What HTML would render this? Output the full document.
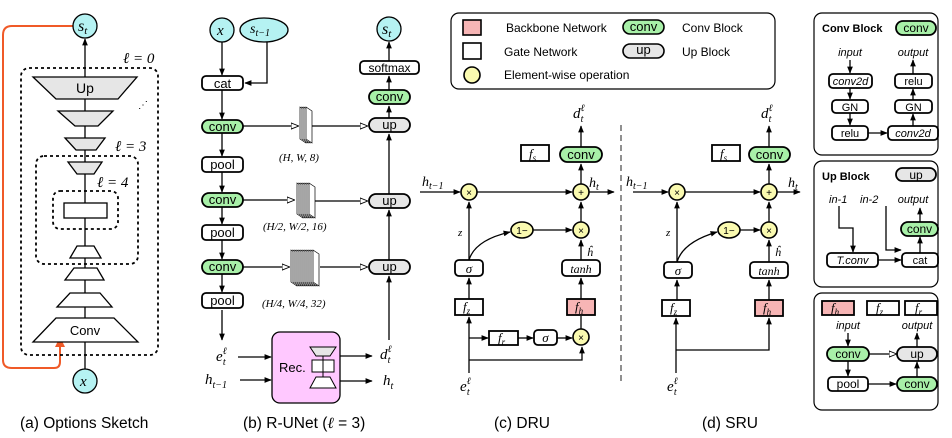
<!DOCTYPE html>
<html><head><meta charset="utf-8"><style>
html,body{margin:0;padding:0;background:#fff}
svg{display:block}
text{font-family:"Liberation Sans",sans-serif;fill:#000}
.m{font-family:"Liberation Serif",serif;font-style:italic}
.it{font-style:italic}
</style></head><body>
<svg width="952" height="438" viewBox="0 0 952 438" xmlns="http://www.w3.org/2000/svg">
<defs>
<marker id="a" viewBox="0 0 10 10" refX="9" refY="5" markerWidth="5.5" markerHeight="5.5" orient="auto-start-reverse"><path d="M0,1 L10,5 L0,9 z" fill="#000"/></marker>
<marker id="o" viewBox="0 0 10 10" refX="9" refY="5" markerWidth="6" markerHeight="6" orient="auto"><path d="M0,1 L10,5 L0,9 z" fill="#fff" stroke="#000" stroke-width="1.2"/></marker>
<marker id="r" viewBox="0 0 10 10" refX="9" refY="5" markerWidth="5" markerHeight="5" orient="auto"><path d="M0,0 L10,5 L0,10 z" fill="#f05a28"/></marker>
</defs>
<g stroke="#000" stroke-width="1.3" fill="none">
<!-- Panel a -->
<path d="M73,26 H12 Q3,26 3,35 V360 Q3,368 12,368 H54 Q60,368 60,362 V338" stroke="#f05a28" stroke-width="2" marker-end="url(#r)"/>
<line x1="85" y1="369" x2="85" y2="39" marker-end="url(#a)"/>
<rect x="21" y="68" width="137" height="287" rx="8" stroke-dasharray="3,3" stroke-width="1.8"/>
<rect x="36" y="156" width="102" height="108" rx="8" stroke-dasharray="3,3" stroke-width="1.8"/>
<rect x="53" y="191" width="65" height="38" rx="7" stroke-dasharray="3,3" stroke-width="1.8"/>
<g fill="#e6e6e6">
<path d="M33,77 H137 L118,99 H56 Z"/><path d="M58,111 H113 L98,126 H75 Z"/><path d="M65,138 H105 L96,150 H76 Z"/><path d="M68,162 H102 L94,174 H77 Z"/>
</g>
<g fill="#fff">
<rect x="64" y="203" width="43" height="15"/>
<path d="M77,246 H94 L101,258 H70 Z"/><path d="M74,268 H97 L104,280 H65 Z"/><path d="M70,293 H100 L112,307 H57 Z"/><path d="M56,318 H114 L138,342 H33 Z"/>
</g>
<circle cx="85" cy="26" r="12" fill="#b5f2f2"/><circle cx="85" cy="381" r="12" fill="#b5f2f2"/>
<!-- Panel b -->
<circle cx="222" cy="30" r="12" fill="#b5f2f2"/><ellipse cx="264" cy="30" rx="24" ry="12" fill="#b5f2f2"/>
<circle cx="389" cy="29" r="12" fill="#b5f2f2"/>
<line x1="222" y1="42" x2="222" y2="75" marker-end="url(#a)"/>
<path d="M267,42 V83 H245" marker-end="url(#a)"/>
<line x1="222" y1="90" x2="222" y2="119" marker-end="url(#a)"/>
<line x1="222" y1="133" x2="222" y2="156" marker-end="url(#a)"/>
<line x1="222" y1="172" x2="222" y2="192" marker-end="url(#a)"/>
<line x1="222" y1="207" x2="222" y2="224" marker-end="url(#a)"/>
<line x1="222" y1="240" x2="222" y2="259" marker-end="url(#a)"/>
<line x1="222" y1="274" x2="222" y2="292" marker-end="url(#a)"/>
<line x1="222" y1="310" x2="222" y2="340" marker-end="url(#a)"/>
<line x1="243" y1="126" x2="298" y2="126" marker-end="url(#o)"/>
<line x1="312" y1="126" x2="367" y2="126" marker-end="url(#o)"/>
<line x1="243" y1="200" x2="294" y2="200" marker-end="url(#o)"/>
<line x1="315" y1="201" x2="367" y2="201" marker-end="url(#o)"/>
<line x1="243" y1="267" x2="289" y2="267" marker-end="url(#o)"/>
<line x1="320" y1="267" x2="367" y2="267" marker-end="url(#o)"/>
<line x1="389" y1="340" x2="389" y2="276" marker-end="url(#a)"/>
<line x1="389" y1="260" x2="389" y2="210" marker-end="url(#a)"/>
<line x1="389" y1="194" x2="389" y2="134" marker-end="url(#a)"/>
<line x1="389" y1="118" x2="389" y2="106" marker-end="url(#a)"/>
<line x1="389" y1="90" x2="389" y2="76" marker-end="url(#a)"/>
<line x1="389" y1="61" x2="389" y2="42" marker-end="url(#a)"/>
<line x1="238" y1="357" x2="271" y2="357" marker-end="url(#a)"/>
<line x1="240" y1="380" x2="271" y2="380" marker-end="url(#a)"/>
<line x1="340" y1="356" x2="372" y2="356" marker-end="url(#a)"/>
<line x1="340" y1="381" x2="372" y2="381" marker-end="url(#a)"/>
<rect x="272" y="332" width="68" height="71" rx="8" fill="#ffc8ff"/>
<path d="M310,347 H336 L330,356 H316 Z" fill="#e6e6e6" stroke-width="1"/>
<rect x="312" y="360" width="22" height="12" fill="#fff" stroke-width="1"/>
<path d="M316,377 H330 L336,388 H310 Z" fill="#fff" stroke-width="1"/>
<line x1="323" y1="356" x2="323" y2="377" stroke-width="1"/>
<g stroke-width="1.8">
<rect x="202" y="76" width="41" height="14" rx="4" fill="#fff"/>
<rect x="202" y="120" width="41" height="13" rx="6.5" fill="#a8f0a8"/>
<rect x="202" y="157" width="41" height="15" rx="4" fill="#fff"/>
<rect x="202" y="193" width="41" height="14" rx="7" fill="#a8f0a8"/>
<rect x="202" y="225" width="41" height="15" rx="4" fill="#fff"/>
<rect x="202" y="260" width="41" height="14" rx="7" fill="#a8f0a8"/>
<rect x="202" y="293" width="41" height="15" rx="4" fill="#fff"/>
<rect x="360" y="61" width="59" height="13" rx="4" fill="#fff"/>
<rect x="369" y="90" width="41" height="14" rx="7" fill="#a8f0a8"/>
<rect x="369" y="118" width="41" height="14" rx="7" fill="#e6e6e6"/>
<rect x="369" y="194" width="41" height="14" rx="7" fill="#e6e6e6"/>
<rect x="369" y="260" width="41" height="14" rx="7" fill="#e6e6e6"/>
</g>
<!-- feature maps -->
<g stroke-width="0.7" fill="#fff">
<path d="M300,107 L306,111 V143 L300,139 Z"/><path d="M302,107 L308,111 V143 L302,139 Z"/><path d="M304,107 L310,111 V143 L304,139 Z"/><path d="M306,107 L312,111 V143 L306,139 Z"/>
<path d="M297,183 L303,187 V218 L297,214 Z"/><path d="M299,183 L305,187 V218 L299,214 Z"/><path d="M301,183 L307,187 V218 L301,214 Z"/><path d="M303,183 L309,187 V218 L303,214 Z"/><path d="M305,183 L311,187 V218 L305,214 Z"/><path d="M307,183 L313,187 V218 L307,214 Z"/><path d="M309,183 L315,187 V218 L309,214 Z"/>
<path d="M291,250 L297,254 V286 L291,282 Z"/><path d="M293,250 L299,254 V286 L293,282 Z"/><path d="M295,250 L301,254 V286 L295,282 Z"/><path d="M297,250 L303,254 V286 L297,282 Z"/><path d="M299,250 L305,254 V286 L299,282 Z"/><path d="M301,250 L307,254 V286 L301,282 Z"/><path d="M303,250 L309,254 V286 L303,282 Z"/><path d="M305,250 L311,254 V286 L305,282 Z"/><path d="M307,250 L313,254 V286 L307,282 Z"/><path d="M309,250 L315,254 V286 L309,282 Z"/><path d="M311,250 L317,254 V286 L311,282 Z"/><path d="M313,250 L319,254 V286 L313,282 Z"/>
</g>
<!-- Legend -->
<rect x="451" y="13" width="324" height="76" rx="8" stroke-width="1.2"/>
<rect x="463" y="20" width="18" height="15" fill="#f7b5b5" stroke-width="1.6"/>
<rect x="463" y="43" width="18" height="16" fill="#fff" stroke-width="1.6"/>
<circle cx="472" cy="75" r="8" fill="#fafab0" stroke-width="1.6"/>
<rect x="623" y="20" width="41" height="14" rx="7" fill="#a8f0a8" stroke-width="1.6"/>
<rect x="623" y="44" width="41" height="14" rx="7" fill="#e6e6e6" stroke-width="1.6"/>
<!-- DRU -->
<line x1="621" y1="125" x2="621" y2="383" stroke="#555" stroke-dasharray="6,4"/>
<line x1="420" y1="192" x2="460" y2="192" marker-end="url(#a)"/>
<line x1="477" y1="192" x2="572" y2="192" marker-end="url(#a)"/>
<line x1="589" y1="192" x2="614" y2="192" marker-end="url(#a)"/>
<line x1="581" y1="184" x2="581" y2="164" marker-end="url(#a)"/>
<line x1="581" y1="147" x2="581" y2="126" marker-end="url(#a)"/>
<line x1="581" y1="222" x2="581" y2="202" marker-end="url(#a)"/>
<line x1="581" y1="260" x2="581" y2="240" marker-end="url(#a)"/>
<line x1="581" y1="299" x2="581" y2="278" marker-end="url(#a)"/>
<line x1="581" y1="329" x2="581" y2="316"/>
<line x1="533" y1="230" x2="572" y2="230" marker-end="url(#a)"/>
<path d="M469,260 Q475,240 510,232" marker-end="url(#a)"/>
<line x1="469" y1="260" x2="469" y2="202" marker-end="url(#a)"/>
<line x1="469" y1="299" x2="469" y2="278" marker-end="url(#a)"/>
<line x1="469" y1="373" x2="469" y2="317" marker-end="url(#a)"/>
<line x1="469" y1="338" x2="488" y2="338" marker-end="url(#a)"/>
<line x1="518" y1="338" x2="533" y2="338" marker-end="url(#a)"/>
<line x1="557" y1="338" x2="572" y2="338" marker-end="url(#a)"/>
<path d="M469,360 H582 V347" marker-end="url(#a)"/>
<g stroke-width="1.8">
<rect x="521" y="145" width="28" height="16" fill="#fff"/>
<rect x="560" y="147" width="42" height="15" rx="7.5" fill="#a8f0a8"/>
<rect x="455" y="260" width="28" height="16" rx="4" fill="#fff"/>
<rect x="562" y="260" width="38" height="16" rx="4" fill="#fff"/>
<rect x="455" y="299" width="28" height="16" fill="#fff"/>
<rect x="567" y="299" width="28" height="16" fill="#f7b5b5"/>
<rect x="489" y="331" width="29" height="14" fill="#fff"/>
<rect x="534" y="330" width="23" height="15" rx="4" fill="#fff"/>
</g>
<g fill="#fafab0" stroke-width="1.6">
<circle cx="469" cy="192" r="8"/><circle cx="581" cy="192" r="8"/><circle cx="581" cy="230" r="8"/><circle cx="581" cy="337" r="8"/><ellipse cx="522" cy="230" rx="11" ry="8"/>
</g>
<!-- SRU -->
<line x1="633" y1="192" x2="668" y2="192" marker-end="url(#a)"/>
<line x1="685" y1="192" x2="760" y2="192" marker-end="url(#a)"/>
<line x1="777" y1="192" x2="800" y2="192" marker-end="url(#a)"/>
<line x1="769" y1="184" x2="769" y2="164" marker-end="url(#a)"/>
<line x1="769" y1="147" x2="769" y2="126" marker-end="url(#a)"/>
<line x1="769" y1="222" x2="769" y2="202" marker-end="url(#a)"/>
<line x1="769" y1="262" x2="769" y2="240" marker-end="url(#a)"/>
<line x1="769" y1="300" x2="769" y2="280" marker-end="url(#a)"/>
<line x1="740" y1="230" x2="760" y2="230" marker-end="url(#a)"/>
<path d="M677,262 Q683,242 717,232" marker-end="url(#a)"/>
<line x1="677" y1="262" x2="677" y2="202" marker-end="url(#a)"/>
<line x1="677" y1="300" x2="677" y2="280" marker-end="url(#a)"/>
<line x1="676" y1="373" x2="676" y2="318" marker-end="url(#a)"/>
<path d="M676,350 H769 V318" marker-end="url(#a)"/>
<g stroke-width="1.8">
<rect x="712" y="145" width="28" height="16" fill="#fff"/>
<rect x="749" y="147" width="41" height="15" rx="7.5" fill="#a8f0a8"/>
<rect x="664" y="262" width="28" height="16" rx="4" fill="#fff"/>
<rect x="750" y="262" width="38" height="16" rx="4" fill="#fff"/>
<rect x="662" y="300" width="28" height="16" fill="#fff"/>
<rect x="755" y="300" width="28" height="16" fill="#f7b5b5"/>
</g>
<g fill="#fafab0" stroke-width="1.6">
<circle cx="677" cy="192" r="8"/><circle cx="769" cy="192" r="8"/><circle cx="769" cy="230" r="8"/><ellipse cx="729" cy="230" rx="11" ry="8"/>
</g>
<!-- Right boxes -->
<rect x="814" y="13" width="124" height="142" rx="8" stroke-width="1.2"/>
<rect x="814" y="161" width="124" height="126" rx="8" stroke-width="1.2"/>
<rect x="814" y="293" width="124" height="117" rx="8" stroke-width="1.2"/>
<line x1="850" y1="60" x2="850" y2="73" marker-end="url(#a)"/>
<line x1="850" y1="88" x2="850" y2="99" marker-end="url(#a)"/>
<line x1="850" y1="113" x2="850" y2="125" marker-end="url(#a)"/>
<line x1="868" y1="133" x2="887" y2="133" marker-end="url(#a)"/>
<line x1="913" y1="126" x2="913" y2="114" marker-end="url(#a)"/>
<line x1="913" y1="100" x2="913" y2="89" marker-end="url(#a)"/>
<line x1="913" y1="74" x2="913" y2="60" marker-end="url(#a)"/>
<path d="M839,206 V228 H853 V252" marker-end="url(#a)"/>
<path d="M886,206 V250 H901" marker-end="url(#a)"/>
<line x1="878" y1="260" x2="901" y2="260" marker-end="url(#a)"/>
<line x1="920" y1="253" x2="920" y2="237" marker-end="url(#a)"/>
<line x1="920" y1="222" x2="920" y2="208" marker-end="url(#a)"/>
<line x1="848" y1="333" x2="848" y2="346" marker-end="url(#a)"/>
<line x1="848" y1="361" x2="848" y2="376" marker-end="url(#a)"/>
<line x1="869" y1="354" x2="896" y2="354" marker-end="url(#o)"/>
<line x1="868" y1="384" x2="896" y2="384" marker-end="url(#a)"/>
<line x1="917" y1="377" x2="917" y2="362" marker-end="url(#a)"/>
<line x1="917" y1="347" x2="917" y2="333" marker-end="url(#a)"/>
<g stroke-width="1.8">
<rect x="896" y="21" width="40" height="14" rx="7" fill="#a8f0a8"/>
<rect x="829" y="74" width="43" height="14" rx="4" fill="#fff"/>
<rect x="832" y="100" width="36" height="13" rx="4" fill="#fff"/>
<rect x="832" y="126" width="36" height="14" rx="4" fill="#fff"/>
<rect x="895" y="74" width="37" height="14" rx="4" fill="#fff"/>
<rect x="895" y="100" width="37" height="13" rx="4" fill="#fff"/>
<rect x="888" y="126" width="50" height="14" rx="4" fill="#fff"/>
<rect x="896" y="168" width="40" height="13" rx="6.5" fill="#e6e6e6"/>
<rect x="901" y="222" width="37" height="14" rx="7" fill="#a8f0a8"/>
<rect x="827" y="253" width="51" height="14" rx="4" fill="#fff"/>
<rect x="902" y="253" width="36" height="14" rx="4" fill="#fff"/>
<rect x="822" y="301" width="32" height="14" fill="#f7b5b5"/>
<rect x="867" y="301" width="32" height="14" fill="#fff"/>
<rect x="905" y="301" width="32" height="14" fill="#fff"/>
<rect x="827" y="347" width="42" height="14" rx="7" fill="#a8f0a8"/>
<rect x="897" y="347" width="40" height="14" rx="7" fill="#e6e6e6"/>
<rect x="828" y="377" width="40" height="14" rx="4" fill="#fff"/>
<rect x="897" y="377" width="40" height="14" rx="7" fill="#a8f0a8"/>
</g>
</g>
<!-- TEXT -->
<g font-size="13">
<text class="m" x="78" y="31" font-size="16">s<tspan font-size="11" dy="3">t</tspan></text>
<text class="m" x="80" y="386" font-size="15">x</text>
<text class="m" x="123" y="63" font-size="15">ℓ = 0</text>
<text class="m" x="115" y="151" font-size="15">ℓ = 3</text>
<text class="m" x="97" y="187" font-size="15">ℓ = 4</text>
<text x="138" y="108" font-size="10">⋰</text>
<text x="85" y="93" text-anchor="middle" font-size="14">Up</text>
<text x="85" y="335" text-anchor="middle" font-size="13">Conv</text>
<text x="20" y="428" font-size="15.5">(a) Options Sketch</text>
<text class="m" x="217" y="35" font-size="15">x</text>
<text class="m" x="250" y="33" font-size="14">s<tspan font-size="10" dy="3">t−1</tspan></text>
<text class="m" x="382" y="34" font-size="16">s<tspan font-size="11" dy="3">t</tspan></text>
<g font-size="13" text-anchor="middle">
<text x="222.5" y="88">cat</text>
<text x="222.5" y="131">conv</text>
<text x="222.5" y="169">pool</text>
<text x="222.5" y="204">conv</text>
<text x="222.5" y="237">pool</text>
<text x="222.5" y="271">conv</text>
<text x="222.5" y="305">pool</text>
<text x="389.5" y="72" font-size="12">softmax</text>
<text x="389.5" y="101">conv</text>
<text x="389.5" y="129">up</text>
<text x="389.5" y="205">up</text>
<text x="389.5" y="271">up</text>
</g>
<text class="m" x="279" y="161" font-size="11">(H, W, 8)</text>
<text class="m" x="263" y="230" font-size="11">(H/2, W/2, 16)</text>
<text class="m" x="262" y="307" font-size="11">(H/4, W/4, 32)</text>
<text x="279" y="372" font-size="13">Rec.</text>
<text class="m" x="216" y="361" font-size="15">e<tspan font-size="10" dy="-7">ℓ</tspan><tspan font-size="10" dx="-4" dy="11">t</tspan></text>
<text class="m" x="205" y="384" font-size="15">h<tspan font-size="10" dy="4">t−1</tspan></text>
<text class="m" x="380" y="359" font-size="15">d<tspan font-size="10" dy="-7">ℓ</tspan><tspan font-size="10" dx="-4" dy="11">t</tspan></text>
<text class="m" x="383" y="385" font-size="15">h<tspan font-size="10" dy="4">t</tspan></text>
<text x="243" y="428" font-size="15.5">(b) R-UNet (<tspan class="m">ℓ</tspan> = 3)</text>
<text x="506" y="32" font-size="12">Backbone Network</text>
<text x="504" y="56" font-size="12">Gate Network</text>
<text x="504" y="79" font-size="12">Element-wise operation</text>
<text x="682" y="32" font-size="12">Conv Block</text>
<text x="682" y="56" font-size="12">Up Block</text>
<text x="643.5" y="31" text-anchor="middle" font-size="13">conv</text>
<text x="643.5" y="54" text-anchor="middle" font-size="13">up</text>
<!-- DRU text -->
<text class="m" x="573" y="118" font-size="15">d<tspan font-size="10" dy="-7">ℓ</tspan><tspan font-size="10" dx="-4" dy="11">t</tspan></text>
<text class="m" x="529" y="158" font-size="13">f<tspan font-size="9" dy="3">s</tspan></text>
<text x="581" y="159" text-anchor="middle" font-size="13">conv</text>
<text class="m" x="589" y="187" font-size="14">h<tspan font-size="10" dy="3">t</tspan></text>
<text class="m" x="422" y="186" font-size="14">h<tspan font-size="10" dy="3">t−1</tspan></text>
<text class="m" x="458" y="236" font-size="11">z</text>
<text class="m" x="587" y="256" font-size="12">ĥ</text>
<text class="m" x="469" y="273" text-anchor="middle" font-size="13">σ</text>
<text class="m" x="581" y="273" text-anchor="middle" font-size="12">tanh</text>
<text class="m" x="463" y="311" font-size="13">f<tspan font-size="9" dy="3">z</tspan></text>
<text class="m" x="575" y="311" font-size="13">f<tspan font-size="9" dy="3">h</tspan></text>
<text class="m" x="498" y="342" font-size="13">f<tspan font-size="9" dy="3">r</tspan></text>
<text class="m" x="545.5" y="342" text-anchor="middle" font-size="13">σ</text>
<text class="m" x="460" y="391" font-size="15">e<tspan font-size="10" dy="-7">ℓ</tspan><tspan font-size="10" dx="-4" dy="11">t</tspan></text>
<text x="494" y="428" font-size="15.5">(c) DRU</text>
<!-- SRU text -->
<text class="m" x="761" y="118" font-size="15">d<tspan font-size="10" dy="-7">ℓ</tspan><tspan font-size="10" dx="-4" dy="11">t</tspan></text>
<text class="m" x="720" y="158" font-size="13">f<tspan font-size="9" dy="3">s</tspan></text>
<text x="769.5" y="159" text-anchor="middle" font-size="13">conv</text>
<text class="m" x="788" y="187" font-size="14">h<tspan font-size="10" dy="3">t</tspan></text>
<text class="m" x="626" y="186" font-size="14">h<tspan font-size="10" dy="3">t−1</tspan></text>
<text class="m" x="666" y="236" font-size="11">z</text>
<text class="m" x="775" y="256" font-size="12">ĥ</text>
<text class="m" x="678" y="275" text-anchor="middle" font-size="13">σ</text>
<text class="m" x="769" y="275" text-anchor="middle" font-size="12">tanh</text>
<text class="m" x="670" y="312" font-size="13">f<tspan font-size="9" dy="3">z</tspan></text>
<text class="m" x="763" y="312" font-size="13">f<tspan font-size="9" dy="3">h</tspan></text>
<text class="m" x="667" y="391" font-size="15">e<tspan font-size="10" dy="-7">ℓ</tspan><tspan font-size="10" dx="-4" dy="11">t</tspan></text>
<text x="702" y="428" font-size="15.5">(d) SRU</text>
<!-- Right text -->
<text x="822" y="32" font-size="11" font-weight="bold">Conv Block</text>
<text x="916" y="32" text-anchor="middle" font-size="12">conv</text>
<text class="it" x="850" y="56" text-anchor="middle" font-size="11">input</text>
<text class="it" x="913" y="56" text-anchor="middle" font-size="11">output</text>
<text class="it" x="850.5" y="85" text-anchor="middle" font-size="11">conv2d</text>
<text x="850" y="111" text-anchor="middle" font-size="11">GN</text>
<text x="850" y="137" text-anchor="middle" font-size="11">relu</text>
<text x="913.5" y="85" text-anchor="middle" font-size="11">relu</text>
<text x="913.5" y="111" text-anchor="middle" font-size="11">GN</text>
<text class="it" x="913" y="137" text-anchor="middle" font-size="11">conv2d</text>
<text x="822" y="180" font-size="11" font-weight="bold">Up Block</text>
<text x="916" y="179" text-anchor="middle" font-size="12">up</text>
<text class="it" x="829" y="203" font-size="11">in-1</text>
<text class="it" x="860" y="203" font-size="11">in-2</text>
<text class="it" x="913" y="203" text-anchor="middle" font-size="11">output</text>
<text x="919.5" y="233" text-anchor="middle" font-size="12">conv</text>
<text class="it" x="852.5" y="264" text-anchor="middle" font-size="11">T.conv</text>
<text x="920" y="264" text-anchor="middle" font-size="11">cat</text>
<text class="m" x="831" y="312" font-size="13">f<tspan font-size="9" dy="3">h</tspan></text>
<text class="m" x="876" y="312" font-size="13">f<tspan font-size="9" dy="3">z</tspan></text>
<text class="m" x="915" y="312" font-size="13">f<tspan font-size="9" dy="3">r</tspan></text>
<text class="it" x="848" y="329" text-anchor="middle" font-size="11">input</text>
<text class="it" x="917" y="329" text-anchor="middle" font-size="11">output</text>
<text x="848" y="358" text-anchor="middle" font-size="12">conv</text>
<text x="917" y="358" text-anchor="middle" font-size="12">up</text>
<text x="848" y="388" text-anchor="middle" font-size="12">pool</text>
<text x="917" y="388" text-anchor="middle" font-size="12">conv</text>
</g>
<g font-size="10" text-anchor="middle" font-family="DejaVu Sans">
<text x="469" y="196">×</text><text x="581" y="196">+</text><text x="581" y="234">×</text><text x="581" y="341">×</text><text x="522" y="234">1−</text>
<text x="677" y="196">×</text><text x="769" y="196">+</text><text x="769" y="234">×</text><text x="729" y="234">1−</text>
</g>
</svg>
</body></html>
